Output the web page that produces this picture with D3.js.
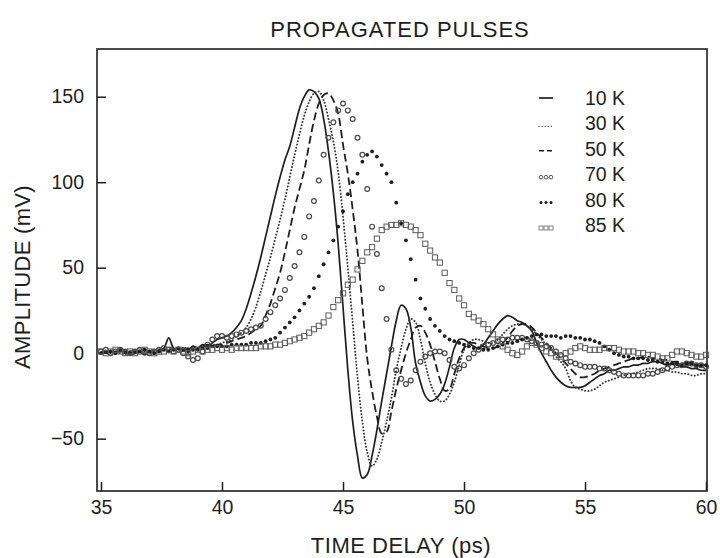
<!DOCTYPE html>
<html><head><meta charset="utf-8">
<script src="https://cdn.jsdelivr.net/npm/d3@7"></script>
<style>
body{margin:0;background:#fff;}
text{font-family:"Liberation Sans", Arial, Helvetica, sans-serif; fill:#1e1e1e;}
</style>
</head><body><svg id="c" width="720" height="558"></svg>
<script>
// ---- data (time grid: 35 ps + i * 0.2 ps) ----
const T_START = 35, T_STEP = 0.2;
const xTicks = [35, 40, 45, 50, 55, 60];
const yTicks = [-50, 0, 50, 100, 150];
const seriesNames = ["10 K", "30 K", "50 K", "70 K", "80 K", "85 K"];

const k10 = [1,0,1,0,2,1,-1,0,1,-1,1,0,2,3,9,3,2,3,2,4,3,5,4,6,8,
  9,10,12,15,19,26,35,45,56,68,80,92,103,113,121,132,143,150,154,153,149,137,118,94,64,
  27,-10,-40,-60,-73,-71,-60,-45,-28,-12,4,19,28,26,15,-6,-17,-25,-28,-27,-24,-18,-8,3,8,
  8,6,4,3,5,9,13,17,20,22,21,19,18,16,13,6,0,-5,-10,-14,-17,-19,-20,-20,-20,
  -19,-17,-15,-13,-12,-10,-10,-9,-8,-8,-7,-7,-6,-6,-5,-5,-6,-7,-6,-7,-8,-8,-9,-9,-10,-10];
const k30 = [0,1,0,1,0,-1,0,1,0,1,0,1,1,2,2,3,2,3,3,2,3,4,4,5,5,
  6,7,8,10,12,15,20,27,36,46,56,67,78,90,103,116,128,139,147,152,153,148,137,124,106,
  80,50,18,-14,-40,-58,-66,-62,-52,-40,-26,-10,3,14,20,18,8,-6,-17,-24,-28,-28,-24,-17,-7,
  2,6,8,8,7,6,6,8,11,14,16,17,17,16,14,11,8,5,2,-2,-5,-9,-16,-20,-21,
  -22,-22,-21,-19,-17,-16,-15,-14,-13,-12,-12,-11,-10,-9,-9,-9,-10,-10,-11,-11,-12,-12,-13,-13,-12,-12];
const k50 = [1,0,0,1,1,0,1,2,1,0,1,2,1,2,3,2,3,2,3,4,3,4,5,4,5,
  5,6,7,8,9,10,12,14,16,22,29,38,47,59,72,85,96,107,122,136,146,151,152,148,140,
  122,105,84,60,28,-3,-22,-37,-47,-46,-34,-21,-10,0,8,15,16,12,5,-5,-15,-22,-21,-12,-3,
  3,6,6,5,4,3,3,4,6,9,13,16,17,17,15,12,9,6,3,0,-3,-6,-9,-12,-14,
  -14,-13,-12,-10,-9,-8,-7,-6,-5,-4,-3,-3,-2,-2,-3,-3,-4,-4,-5,-5,-6,-6,-7,-7,-8,-8];
const k70 = [1,2,0,1,2,1,0,1,2,1,0,1,2,3,2,1,2,0,-2,-4,-3,1,5,8,10,
  10,9,10,11,12,13,14,15,16,20,24,28,32,37,44,51,59,68,80,89,101,116,126,135,142,
  146,142,137,126,116,96,74,58,38,20,2,-10,-15,-18,-16,-10,-5,-2,0,1,1,0,-4,-8,-9,
  -7,-3,0,2,4,5,6,7,8,8,9,9,9,8,7,6,5,4,3,1,-1,-3,-5,-6,-7,
  -8,-8,-8,-9,-9,-10,-11,-12,-13,-13,-13,-13,-13,-12,-12,-11,-10,-9,-8,-7,-7,-6,-6,-7,-7,-8];
const k80 = [0,1,1,0,2,1,0,1,1,2,1,0,1,2,1,2,3,2,1,2,2,3,3,4,4,
  4,4,5,5,5,5,6,6,6,7,8,9,12,15,18,21,25,29,33,38,45,52,59,66,74,
  83,93,100,105,112,116,118,115,110,105,100,88,76,66,55,43,32,26,20,16,13,10,8,7,6,
  5,4,3,3,2,2,3,4,5,6,6,7,8,9,10,11,11,10,10,10,9,10,10,9,9,
  8,8,7,6,4,2,0,-1,-2,-2,-3,-3,-3,-4,-4,-5,-5,-6,-6,-6,-7,-6,-6,-7,-7,-7];
const k85 = [1,0,1,2,1,0,1,0,1,2,1,0,1,1,2,1,2,1,0,1,2,1,2,2,3,
  2,3,2,3,3,3,3,3,4,4,4,5,5,6,7,8,9,10,12,14,16,18,22,27,31,
  35,40,43,49,54,59,62,67,72,74,75,75,76,75,74,72,69,64,60,56,53,47,41,37,32,
  28,23,21,19,17,14,11,8,4,2,0,-1,1,4,6,5,3,1,0,-2,-2,0,1,3,4,
  3,2,2,2,3,3,3,2,1,1,1,0,0,-1,-1,-2,-3,-3,-1,1,1,0,-1,-2,-2,-1];

// ---- layout ----
const W = 720, H = 558;
const L = 97, R = 707, TOP = 49, BOT = 491;
const ink = "#1e1e1e";
const svg = d3.select("#c");
svg.append("rect").attr("width", W).attr("height", H).attr("fill", "#fff");

const x = d3.scaleLinear().domain([34.835, 60.04]).range([L, R]);
const y = d3.scaleLinear().domain([-80.6, 177.9]).range([BOT, TOP]);

const toPts = arr => arr.map((v, i) => [T_START + i * T_STEP, v]);

// frame
svg.append("rect").attr("x", L).attr("y", TOP).attr("width", R - L).attr("height", BOT - TOP)
  .attr("fill", "none").attr("stroke", ink).attr("stroke-width", 1.6);

// axes
const fmt = d3.format("d");
const gx = svg.append("g").attr("transform", `translate(0,${BOT})`)
  .call(d3.axisBottom(x).tickValues(xTicks).tickSize(-9).tickPadding(9).tickFormat(fmt));
const gy = svg.append("g").attr("transform", `translate(${L},0)`)
  .call(d3.axisLeft(y).tickValues(yTicks).tickSize(-9).tickPadding(13).tickFormat(fmt));
[gx, gy].forEach(g => {
  g.select(".domain").remove();
  g.selectAll(".tick line").attr("stroke", ink).attr("stroke-width", 1.5);
  g.selectAll(".tick text").attr("font-size", 19.5).attr("fill", ink)
    .style("font-family", '"Liberation Sans", Arial, sans-serif');
});
gy.selectAll(".tick").filter(d => d === 0).select("line").attr("opacity", 0);

// titles
svg.append("text").attr("x", 400).attr("y", 37).attr("text-anchor", "middle")
  .attr("font-size", 22).attr("letter-spacing", 1).text("PROPAGATED PULSES");
svg.append("text").attr("x", 401).attr("y", 553).attr("text-anchor", "middle")
  .attr("font-size", 22).attr("letter-spacing", 0.5).text("TIME DELAY (ps)");
svg.append("text").attr("transform", "translate(30,277) rotate(-90)").attr("text-anchor", "middle")
  .attr("font-size", 22).attr("letter-spacing", 0.3).text("AMPLITUDE (mV)");

// lines
const line = d3.line().x(d => x(d[0])).y(d => y(d[1])).curve(d3.curveCatmullRom.alpha(0.5));
const plot = svg.append("g");
plot.append("path").datum(toPts(k10)).attr("d", line).attr("fill", "none")
  .attr("stroke", ink).attr("stroke-width", 1.7);
plot.append("path").datum(toPts(k30)).attr("d", line).attr("fill", "none")
  .attr("stroke", "#333").attr("stroke-width", 1.9).attr("stroke-dasharray", "0.1,3.2")
  .attr("stroke-linecap", "round");
plot.append("path").datum(toPts(k50)).attr("d", line).attr("fill", "none")
  .attr("stroke", ink).attr("stroke-width", 1.8).attr("stroke-dasharray", "8,4");

// markers
plot.append("g").selectAll("circle").data(toPts(k70)).join("circle")
  .attr("cx", d => x(d[0])).attr("cy", d => y(d[1])).attr("r", 2.4)
  .attr("fill", "none").attr("stroke", "#4a4a4a").attr("stroke-width", 1.2);
plot.append("g").selectAll("circle").data(toPts(k80)).join("circle")
  .attr("cx", d => x(d[0])).attr("cy", d => y(d[1])).attr("r", 1.9)
  .attr("fill", ink);
plot.append("g").selectAll("rect").data(toPts(k85)).join("rect")
  .attr("x", d => x(d[0]) - 2.6).attr("y", d => y(d[1]) - 2.6).attr("width", 5.2).attr("height", 5.2)
  .attr("fill", "none").attr("stroke", "#5a5a5a").attr("stroke-width", 1);

// legend
const lg = svg.append("g");
const rowY = i => 98 + i * 25.4;
const sx0 = 539, sx1 = 553;
seriesNames.forEach((name, i) => {
  lg.append("text").attr("x", 585).attr("y", rowY(i)).attr("dy", "0.36em")
    .attr("font-size", 19.5).text(name);
});
lg.append("line").attr("x1", sx0).attr("x2", sx1).attr("y1", rowY(0)).attr("y2", rowY(0))
  .attr("stroke", ink).attr("stroke-width", 1.7);
lg.append("line").attr("x1", sx0).attr("x2", sx1).attr("y1", rowY(1) + 3).attr("y2", rowY(1) + 3)
  .attr("stroke", "#555").attr("stroke-width", 1.3).attr("stroke-dasharray", "0.1,3").attr("stroke-linecap", "round");
lg.append("line").attr("x1", sx0).attr("x2", sx1 + 1).attr("y1", rowY(2) + 2).attr("y2", rowY(2) + 2)
  .attr("stroke", ink).attr("stroke-width", 1.5).attr("stroke-dasharray", "5,3");
[0, 1, 2].forEach(j => {
  const cx = sx0 + 2 + j * 5;
  lg.append("circle").attr("cx", cx).attr("cy", rowY(3) + 3).attr("r", 1.8)
    .attr("fill", "none").attr("stroke", "#555").attr("stroke-width", 1);
  lg.append("circle").attr("cx", cx).attr("cy", rowY(4) + 3).attr("r", 1.5).attr("fill", ink);
  lg.append("rect").attr("x", cx - 2).attr("y", rowY(5) + 1).attr("width", 4).attr("height", 4)
    .attr("fill", "none").attr("stroke", "#777").attr("stroke-width", 0.9);
});
</script></body></html>
